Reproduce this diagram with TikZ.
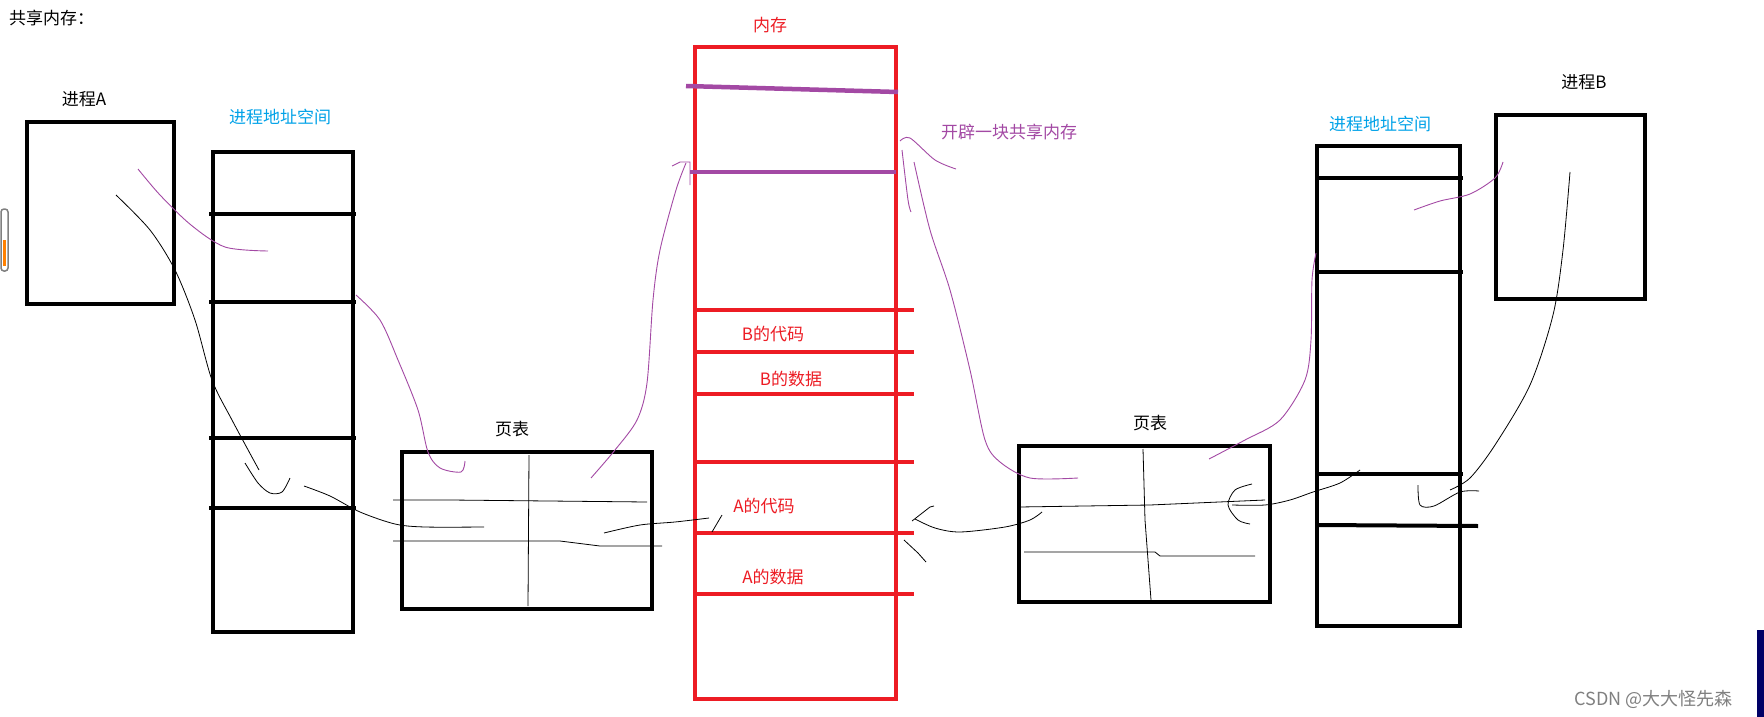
\documentclass[tikz,border=0pt]{standalone}
\usepackage{fontspec}
\setmainfont{Noto Sans CJK SC}
\definecolor{memred}{RGB}{237,28,36}
\definecolor{sky}{RGB}{0,162,232}
\definecolor{pur}{RGB}{163,73,164}
\begin{document}
\begin{tikzpicture}[x=1pt,y=-1pt,
 box/.style={draw=black,line width=4pt},
 sep/.style={draw=black,line width=4pt},
 thin/.style={draw=black,line width=0.8pt},
 pth/.style={draw=pur,line width=0.9pt},
 lbl/.style={inner sep=0pt,font=\fontsize{17}{17}\selectfont},
 pct/.style={inner sep=0pt,font=\fontsize{18}{18}\selectfont}]
\useasboundingbox[fill=white] (0,0) rectangle (1764,717);
% title
\node[lbl,anchor=north west] (title) at (9,10) {共享内存：};
% scrollbar
\draw[gray,line width=1.5pt,rounded corners=3pt] (1,209) rectangle (8,271);
\draw[orange,line width=3pt] (4.5,240) -- (4.5,266);
% process A
\draw[box] (27,122) rectangle (174,304);
\node[lbl] (pa) at (84,99) {进程A};
% address space A
\draw[box] (213,152) rectangle (353,632);
\foreach \y in {214,302,438,508}{\draw[sep] (209,\y) -- (356,\y);}
\node[lbl,text=sky] (asa) at (280,117) {进程地址空间};
% page table A
\draw[box] (402,452) rectangle (652,609);
\node[lbl] (pta) at (512,429) {页表};
\draw[thin] (529,455) -- (528,606);
\draw[thin] (393,500) -- (450,500) -- (647,502);
\draw[thin] (393,541) -- (560,541) -- (600,546) -- (662,546);
% memory
\draw[draw=memred,line width=4pt] (695,47) rectangle (896,699);
\foreach \y in {310,352,394,462,533,594}{\draw[draw=memred,line width=4pt] (695,\y) -- (914,\y);}
\draw[draw=pur,line width=4.5pt] (686,86) -- (898,92);
\draw[draw=pur,line width=4.5pt] (690,172) -- (896,172);
\node[lbl,text=memred] (mem) at (770,25) {内存};
\node[lbl,text=memred] (bc) at (773,334) {B的代码};
\node[lbl,text=memred] (bd) at (791,379) {B的数据};
\node[lbl,text=memred] (ac) at (764,506) {A的代码};
\node[lbl,text=memred] (ad) at (773,577) {A的数据};
\node[lbl,text=pur] (kp) at (1009,132) {开辟一块共享内存};
% page table B
\draw[box] (1019,446) rectangle (1270,602);
\node[lbl] (ptb) at (1150,423) {页表};
\draw[thin] (1143,449) -- (1145,520) -- (1151,600);
\draw[thin] (1019,507) -- (1150,505) -- (1265,500);
\draw[thin] (1024,552) -- (1155,552) -- (1160,556) -- (1255,556);
% address space B
\draw[box] (1317,146) rectangle (1460,626);
\foreach \y in {178,272,474}{\draw[sep] (1317,\y) -- (1463,\y);}
\draw[sep] (1317,525) -- (1478,526);
\node[lbl,text=sky] (asb) at (1380,124) {进程地址空间};
% process B
\draw[box] (1496,115) rectangle (1645,299);
\node[lbl] (pb) at (1584,82) {进程B};
% watermark
\node[pct,text=gray,anchor=south east] (wm) at (1733,709) {CSDN @大大怪先森};
\fill[blue!40!black] (1757,630) rectangle (1764,717);
% --- strokes: process A side
\draw[thin] plot[smooth] coordinates {(116,195) (150,230) (175,270) (195,320) (212,380) (232,420) (259,470)};
\draw[thin] plot[smooth] coordinates {(245,463) (258,483) (270,493) (282,492) (290,478)};
\draw[thin] plot[smooth] coordinates {(304,486) (330,496) (360,512) (395,524) (425,527) (484,527)};
\draw[thin] plot[smooth] coordinates {(604,533) (640,525) (675,522) (709,518)};
\draw[thin] (722,515) -- (712,532);
\draw[pth] plot[smooth] coordinates {(138,169) (160,195) (191,225) (225,247) (268,251)};
\draw[pth] plot[smooth] coordinates {(356,295) (380,320) (398,360) (418,410) (428,452) (440,468) (461,472) (465,461)};
\draw[pth] plot[smooth] coordinates {(591,478) (615,450) (637,420) (647,383) (653,300) (660,250) (676,190) (686,163)};
\draw[pth] (672,166) -- (680,162) -- (690,162) -- (690,185);
% --- strokes: process B side
\draw[pth] plot[smooth] coordinates {(900,141) (910,138) (935,160) (956,169)};
\draw[pth] plot[smooth] coordinates {(902,150) (908,200) (911,212)};
\draw[pth] plot[smooth] coordinates {(914,162) (930,230) (950,290) (970,370) (985,440) (1000,462) (1030,478) (1078,478)};
\draw[pth] plot[smooth] coordinates {(1503,162) (1495,178) (1470,194) (1440,201) (1414,210)};
\draw[pth] plot[smooth] coordinates {(1316,253) (1312,280) (1311,340) (1305,380) (1280,420) (1245,440) (1209,459)};
\draw[thin] plot[smooth] coordinates {(1570,172) (1563,250) (1553,315) (1530,385) (1495,445) (1470,478) (1450,490)};
\draw[thin] plot[smooth] coordinates {(1418,485) (1420,505) (1434,506) (1460,492) (1479,491)};
\draw[thin] plot[smooth] coordinates {(1360,470) (1340,483) (1313,492) (1290,500) (1265,505) (1232,505)};
\draw[thin] plot[smooth] coordinates {(1252,484) (1235,490) (1228,505) (1238,520) (1250,524)};
\draw[thin] plot[smooth] coordinates {(1042,512) (1030,520) (1005,527) (960,532) (935,528) (915,519)};
\draw[thin] (912,521) -- (930,507) -- (934,506);
\draw[thin] (904,540) -- (918,553) -- (926,562);
\end{tikzpicture}
\end{document}
